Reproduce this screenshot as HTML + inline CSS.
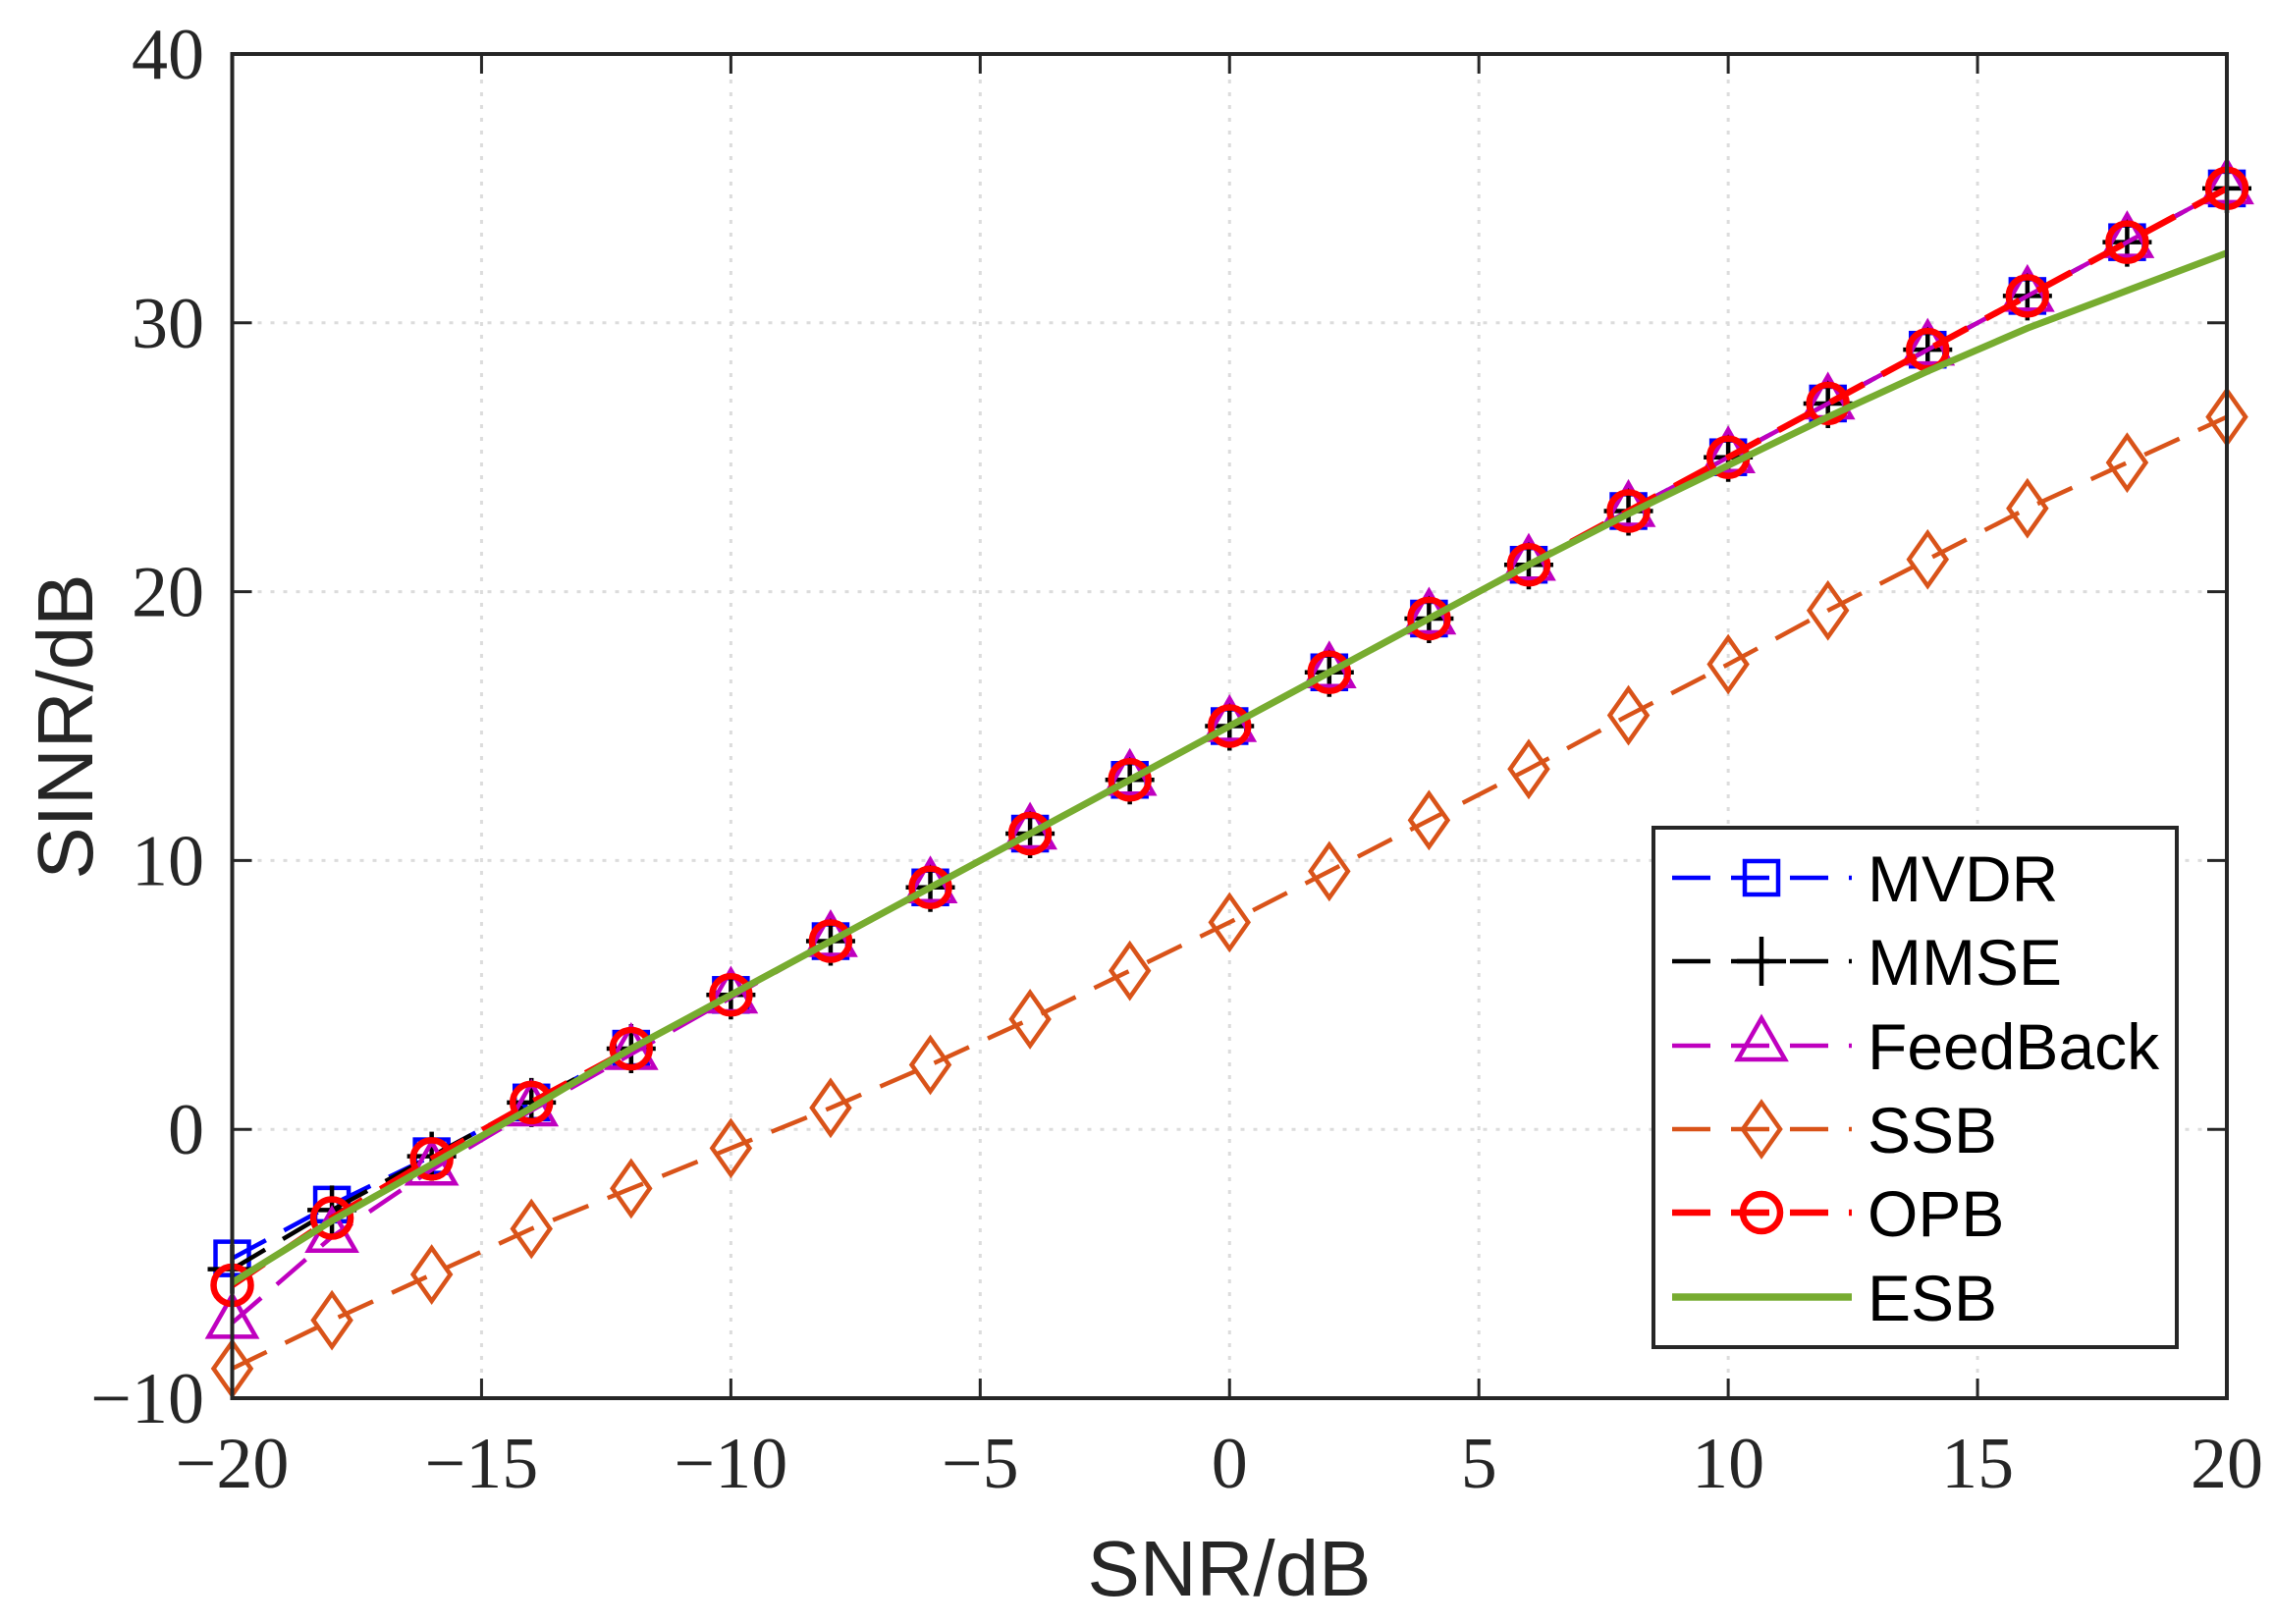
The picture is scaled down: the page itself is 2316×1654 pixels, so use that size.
<!DOCTYPE html><html><head><meta charset="utf-8"><style>body{margin:0;background:#fff}svg{display:block}</style></head><body>
<svg id="s" width="2316" height="1654" xmlns="http://www.w3.org/2000/svg"></svg>
<script>
const L=236.5,R=2268,T=55,B=1424;
const X=v=>L+(v+20)*(R-L)/40, Y=v=>B-(v+10)*(B-T)/50;
let h='';
for(let v=-15;v<20;v+=5)h+=`<line x1="${X(v)}" y1="${T}" x2="${X(v)}" y2="${B}" stroke="#dcdcdc" stroke-width="3" stroke-dasharray="4,9"/>`;
for(let v=0;v<40;v+=10)h+=`<line x1="${L}" y1="${Y(v)}" x2="${R}" y2="${Y(v)}" stroke="#dcdcdc" stroke-width="3" stroke-dasharray="4,9"/>`;
for(let v=-20;v<=20;v+=5){h+=`<line x1="${X(v)}" y1="${B}" x2="${X(v)}" y2="${B-20}" stroke="#262626" stroke-width="3"/><line x1="${X(v)}" y1="${T}" x2="${X(v)}" y2="${T+20}" stroke="#262626" stroke-width="3"/>`;
 h+=`<text x="${X(v)}" y="1515" font-family="Liberation Serif,serif" font-size="74" fill="#262626" text-anchor="middle">${v<0?'\u2212'+(-v):v}</text>`;}
for(let v=-10;v<=40;v+=10){h+=`<line x1="${L}" y1="${Y(v)}" x2="${L+20}" y2="${Y(v)}" stroke="#262626" stroke-width="3"/><line x1="${R}" y1="${Y(v)}" x2="${R-20}" y2="${Y(v)}" stroke="#262626" stroke-width="3"/>`;
 h+=`<text x="208" y="${Y(v)+25}" font-family="Liberation Serif,serif" font-size="74" fill="#262626" text-anchor="end">${v<0?'\u2212'+(-v):v}</text>`;}
const xs=[];for(let v=-20;v<=20;v+=2)xs.push(v);
const base=xs.map(x=>x+15);
const mv=base.slice();mv[0]=-4.8;mv[1]=-2.8;mv[2]=-1;
const mm=base.slice();mm[0]=-5.2;mm[1]=-3.0;mm[2]=-1;
const op=base.slice();op[0]=-5.8;op[1]=-3.3;op[2]=-1.1;
const fb=base.slice();fb[0]=-7.2;fb[1]=-4.0;fb[2]=-1.5;fb[3]=0.7;fb[4]=2.8;fb[5]=4.9;
const ss=[-8.9,-7.1,-5.4,-3.7,-2.2,-0.7,0.8,2.4,4.1,5.9,7.7,9.6,11.5,13.4,15.4,17.3,19.3,21.2,23.1,24.8,26.5];
const es=base.slice();es[0]=-5.7;es[1]=-3.4;es[2]=-1.3;es[3]=0.8;es[14]=22.9;es[15]=24.7;es[16]=26.5;es[17]=28.2;es[18]=29.8;es[19]=31.2;es[20]=32.6;
function line(ys,c,w,dash){return `<polyline fill="none" stroke="${c}" stroke-width="${w}" ${dash?'stroke-dasharray="39,21"':''} points="${xs.map((x,i)=>X(x)+','+Y(ys[i])).join(' ')}"/>`;}
function mk(t,x,y,c){
 if(t=='s')return `<rect x="${x-17}" y="${y-17}" width="34" height="34" fill="none" stroke="${c}" stroke-width="4.5"/>`;
 if(t=='p')return `<path d="M${x-25} ${y}H${x+25}M${x} ${y-25}V${y+25}" stroke="${c}" stroke-width="4.5"/>`;
 if(t=='t')return `<path d="M${x} ${y-28}L${x+24} ${y+14}L${x-24} ${y+14}Z" fill="none" stroke="${c}" stroke-width="4.5"/>`;
 if(t=='d')return `<path d="M${x} ${y-27}L${x+19} ${y}L${x} ${y+27}L${x-19} ${y}Z" fill="none" stroke="${c}" stroke-width="4.5"/>`;
 if(t=='o')return `<circle cx="${x}" cy="${y}" r="19" fill="none" stroke="${c}" stroke-width="6.5"/>`;
}
const S=[[mv,'#0000ff',4.5,'s'],[mm,'#000',4.5,'p'],[fb,'#bf00bf',4.5,'t'],[ss,'#d95319',4.5,'d'],[op,'#ff0000',6.5,'o']];
for(const [ys,c,w,m] of S){h+=line(ys,c,w,1);xs.forEach((x,i)=>h+=mk(m,X(x),Y(ys[i]),c));}
h+=line(es,'#77ac30',7,0);
h+=`<rect x="${L}" y="${T}" width="${R-L}" height="${B-T}" fill="none" stroke="#262626" stroke-width="4"/>`;
h+=`<rect x="1684" y="843" width="533" height="529" fill="#fff" stroke="#262626" stroke-width="4"/>`;
const names=['MVDR','MMSE','FeedBack','SSB','OPB','ESB'],ry=[894,979,1065,1150,1235,1321];
S.forEach(([ys,c,w,m],i)=>{h+=`<line x1="1703" y1="${ry[i]}" x2="1886" y2="${ry[i]}" stroke="${c}" stroke-width="${w}" stroke-dasharray="39,21"/>`+mk(m,1794,ry[i],c);});
h+=`<line x1="1703" y1="${ry[5]}" x2="1886" y2="${ry[5]}" stroke="#77ac30" stroke-width="7.5"/>`;
names.forEach((n,i)=>h+=`<text x="1902" y="${ry[i]+24}" font-family="Liberation Sans,sans-serif" font-size="66" fill="#000">${n}</text>`);
h+=`<text x="1252" y="1625" font-family="Liberation Sans,sans-serif" font-size="80" fill="#262626" text-anchor="middle">SNR/dB</text>`;
h+=`<text transform="translate(94,740) rotate(-90)" font-family="Liberation Sans,sans-serif" font-size="80" fill="#262626" text-anchor="middle">SINR/dB</text>`;
document.getElementById('s').innerHTML=h;
</script></body></html>
